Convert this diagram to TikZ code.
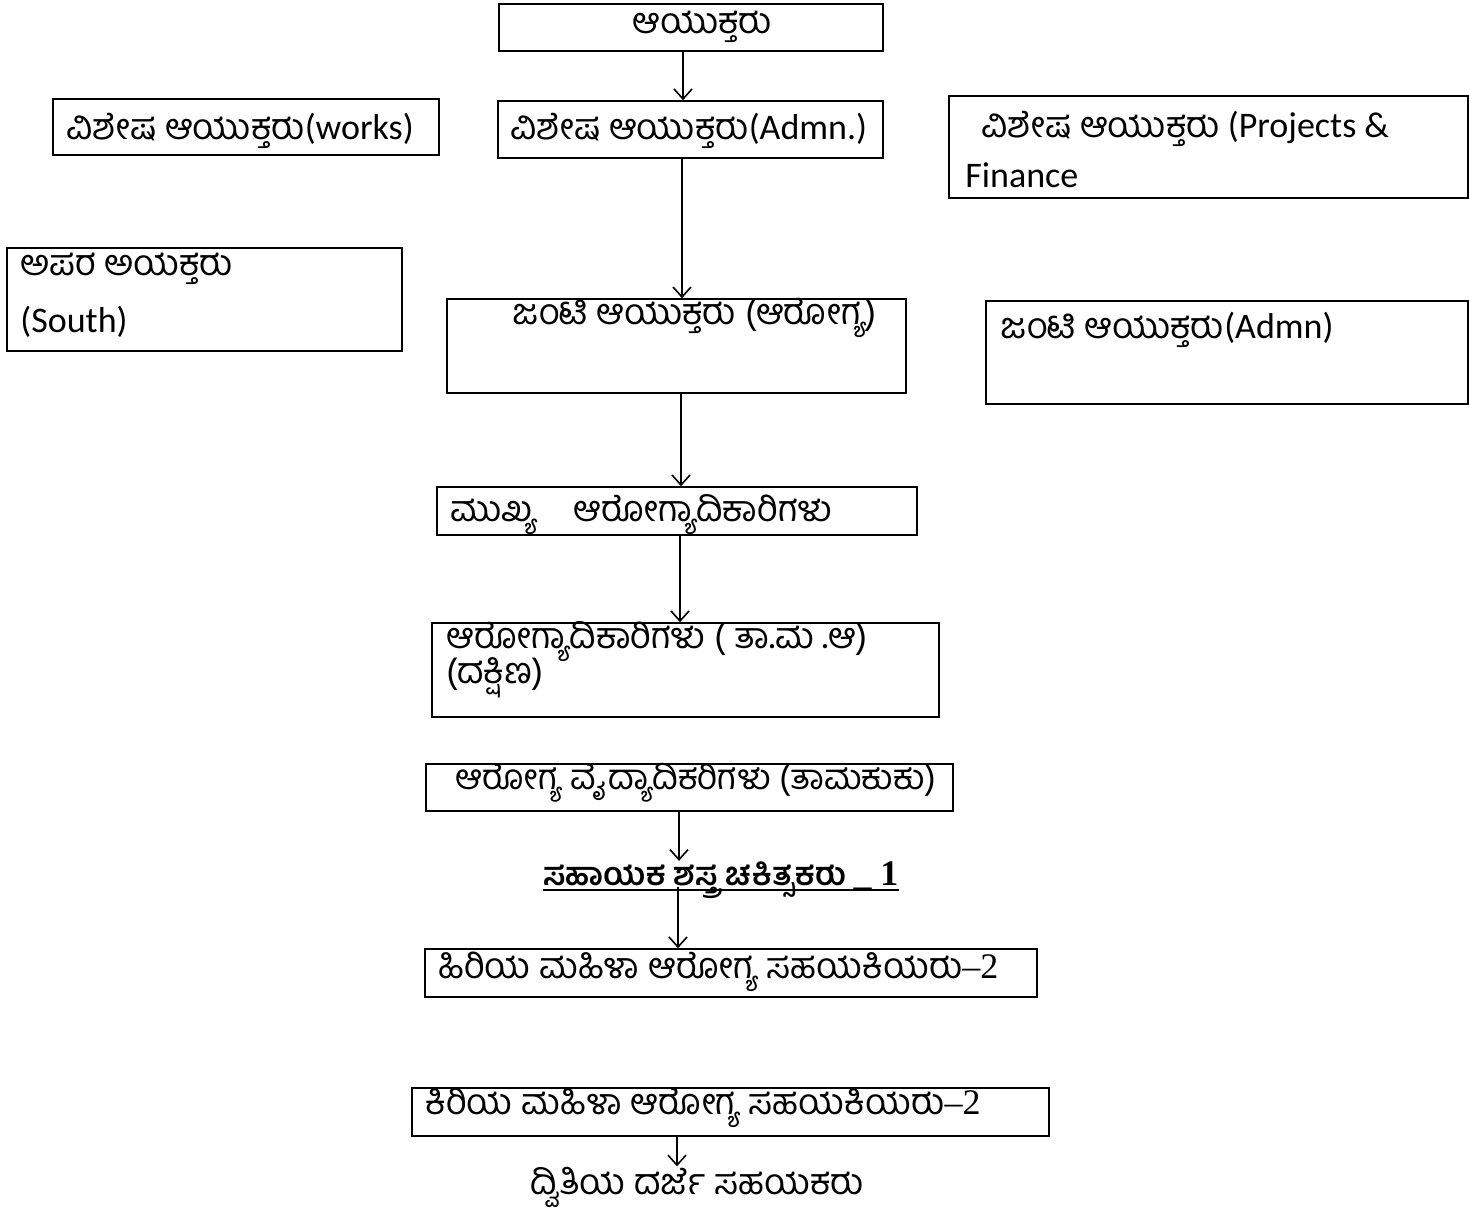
\documentclass[tikz,border=0pt]{standalone}
\usepackage{fontspec}
\setmainfont{Carlito}
\newfontfamily\kn[Script=Kannada]{Hind Mysuru}
\newfontfamily\tm{Liberation Serif}
\usetikzlibrary{fit,arrows.meta}
\begin{document}
\begin{tikzpicture}[x=0.5pt,y=-0.5pt,
  box/.style={draw,line width=0.8pt,inner sep=0pt,fit={#1}},
  txt/.style={inner sep=0pt,anchor=base west,font=\fontsize{18}{22}\selectfont},
  arr/.style={line width=0.8pt,-{Straight Barb[length=5pt,width=9pt]}}]
\useasboundingbox (0,0) rectangle (1469,1220);
% boxes
\node[box={(499,4) (883,51)}] (b1) {};
\node[box={(53,99) (439,155)}] (b2) {};
\node[box={(498,101) (883,158)}] (b3) {};
\node[box={(949,96) (1468,198)}] (b4) {};
\node[box={(7,248) (402,351)}] (b5) {};
\node[box={(447,299) (906,393)}] (b6) {};
\node[box={(986,301) (1468,404)}] (b7) {};
\node[box={(437,487) (917,535)}] (b8) {};
\node[box={(432,623) (939,717)}] (b9) {};
\node[box={(426,764) (953,811)}] (b10) {};
\node[box={(425,949) (1037,997)}] (b12) {};
\node[box={(412,1088) (1049,1136)}] (b13) {};
% texts
\node[txt] (l1) at (632,34) {\kn ಆಯುಕ್ತರು};
\node[txt] (l2) at (66,140) {{\kn ವಿಶೇಷ ಆಯುಕ್ತರು}(works)};
\node[txt] (l3) at (510,140) {{\kn ವಿಶೇಷ ಆಯುಕ್ತರು}(Admn.)};
\node[txt] (l4a) at (981,138) {{\kn ವಿಶೇಷ ಆಯುಕ್ತರು} (Projects \&};
\node[txt] (l4b) at (965,188) {Finance};
\node[txt] (l5a) at (20,276) {\kn ಅಪರ ಅಯಕ್ತರು};
\node[txt] (l5b) at (20,332) {(South)};
\node[txt] (l6) at (512,324) {\kn ಜಂಟಿ ಆಯುಕ್ತರು (ಆರೋಗ್ಯ)};
\node[txt] (l7) at (1000,338) {{\kn ಜಂಟಿ ಆಯುಕ್ತರು}(Admn)};
\node[txt] (l8) at (450,521) {\kn ಮುಖ್ಯ\quad ಆರೋಗ್ಯಾದಿಕಾರಿಗಳು};
\node[txt] (l9a) at (446,648) {\kn ಆರೋಗ್ಯಾದಿಕಾರಿಗಳು ( ತಾ.ಮ .ಆ)};
\node[txt] (l9b) at (446,683) {\kn (ದಕ್ಷಿಣ)};
\node[txt,font=\fontsize{17.5}{22}\selectfont] (l10) at (455,789) {\kn ಆರೋಗ್ಯ ವೈದ್ಯಾದಿಕರಿಗಳು (ತಾಮಕುಕು)};
\node[txt,font=\fontsize{16}{20}\selectfont\bfseries] (t11) at (543,885) {{\kn ಸಹಾಯಕ ಶಸ್ತ್ರ ಚಕಿತ್ಸಕರು} {\tm\bfseries\fontsize{18}{22}\selectfont \_ 1}};
\draw[line width=0.8pt] ([yshift=-2.5pt]t11.base west) -- ([yshift=-2.5pt]t11.base east);
\node[txt] (l12) at (438,978) {{\kn ಹಿರಿಯ ಮಹಿಳಾ ಆರೋಗ್ಯ ಸಹಯಕಿಯರು}{\tm –2}};
\node[txt] (l13) at (425,1114) {{\kn ಕಿರಿಯ ಮಹಿಳಾ ಆರೋಗ್ಯ ಸಹಯಕಿಯರು}{\tm –2}};
\node[txt] (t14) at (530,1194) {\kn ದ್ವಿತಿಯ ದರ್ಜೆ ಸಹಯಕರು};
% arrows
\draw[arr] (683,0 |- b1.south) -- (683,0 |- b3.north);
\draw[arr] (682,0 |- b3.south) -- (682,0 |- b6.north);
\draw[arr] (681,0 |- b6.south) -- (681,0 |- b8.north);
\draw[arr] (680,0 |- b8.south) -- (680,0 |- b9.north);
\draw[arr] (679,0 |- b10.south) -- (679,0 |- t11.north);
\draw[arr] (678,887) -- (678,0 |- b12.north);
\draw[arr] (677,0 |- b13.south) -- (677,0 |- t14.north);
\end{tikzpicture}
\end{document}
